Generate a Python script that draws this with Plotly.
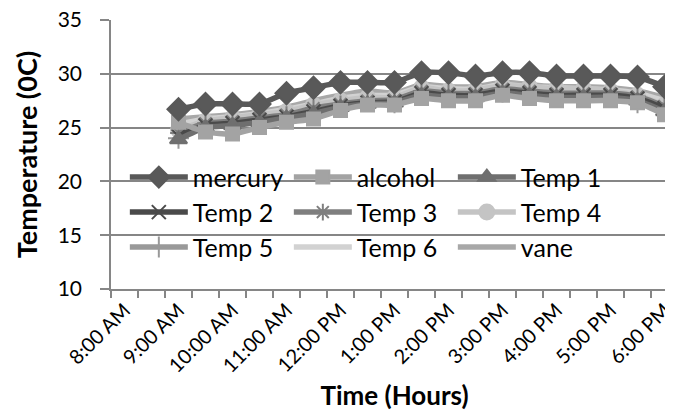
import plotly.graph_objects as go

categories = ["8:00 AM", "8:30 AM", "9:00 AM", "9:30 AM", "10:00 AM", "10:30 AM", "11:00 AM",
              "11:30 AM", "12:00 PM", "12:30 PM", "1:00 PM", "1:30 PM", "2:00 PM", "2:30 PM",
              "3:00 PM", "3:30 PM", "4:00 PM", "4:30 PM", "5:00 PM", "5:30 PM", "6:00 PM"]
first_data_index = 2  # readings start at 9:00 AM

mercury = [26.7, 27.2, 27.2, 27.2, 28.2, 28.7, 29.2, 29.2, 29.2, 30.1, 30.1, 29.8, 30.1, 30.1, 29.8, 29.8, 29.8, 29.7, 28.8]
alcohol = [25.5, 24.6, 24.4, 25.0, 25.5, 25.8, 26.6, 27.1, 27.1, 27.7, 27.5, 27.5, 28.0, 27.7, 27.5, 27.5, 27.5, 27.3, 26.2]
temp1 = [23.9, 25.0, 25.2, 25.5, 25.9, 26.3, 26.9, 27.2, 27.3, 28.0, 27.8, 27.8, 28.2, 28.0, 27.8, 27.8, 27.8, 27.5, 26.5]
temp2 = [24.2, 25.2, 25.4, 25.7, 26.0, 26.5, 27.0, 27.3, 27.4, 28.2, 28.0, 28.0, 28.4, 28.2, 28.0, 28.0, 28.0, 27.7, 26.8]
temp3 = [24.5, 25.4, 25.6, 25.9, 26.2, 26.8, 27.2, 27.5, 27.6, 28.4, 28.2, 28.2, 28.6, 28.4, 28.2, 28.2, 28.2, 27.9, 27.0]
temp4 = [24.8, 25.6, 25.9, 26.2, 26.5, 27.1, 27.5, 27.8, 27.8, 28.7, 28.4, 28.5, 28.9, 28.8, 28.6, 28.6, 28.4, 28.0, 27.1]
temp5 = [24.0, 25.3, 25.6, 25.8, 26.3, 26.8, 27.3, 27.5, 27.3, 28.0, 27.8, 27.8, 28.3, 28.0, 27.8, 27.8, 27.8, 27.3, 26.8]
temp6 = [25.3, 25.8, 26.0, 26.3, 26.7, 27.2, 27.7, 28.0, 28.0, 28.8, 28.6, 28.6, 29.0, 28.8, 28.7, 28.6, 28.5, 28.2, 27.5]
vane = [25.8, 26.0, 26.2, 26.5, 26.9, 27.5, 28.0, 28.4, 28.2, 29.0, 28.8, 28.8, 29.2, 29.0, 28.8, 28.8, 28.7, 28.4, 27.8]

series_names = ["mercury", "alcohol", "Temp 1", "Temp 2", "Temp 3", "Temp 4", "Temp 5", "Temp 6", "vane"]
series_values = [mercury, alcohol, temp1, temp2, temp3, temp4, temp5, temp6, vane]
y_ticks = [10, 15, 20, 25, 30, 35]

styles = [
    dict(color="#595959", symbol="diamond", size=17),
    dict(color="#a3a3a3", symbol="square", size=13),
    dict(color="#6f6f6f", symbol="triangle-up", size=15),
    dict(color="#4a4a4a", symbol="x-thin-open", size=14),
    dict(color="#7f7f7f", symbol="asterisk-open", size=14),
    dict(color="#c4c4c4", symbol="circle", size=15),
    dict(color="#999999", symbol="cross-thin-open", size=15),
    dict(color="#d2d2d2", symbol=None, size=0),
    dict(color="#a8a8a8", symbol=None, size=0),
]

x_idx = list(range(len(categories)))
data_x = x_idx[first_data_index:]

font_family = "Lato, 'Open Sans', sans-serif"
legend_names = ["legend", "legend2", "legend3"]

fig = go.Figure()
traces = []
for i, (name, vals, st) in enumerate(zip(series_names, series_values, styles)):
    if st["symbol"] is None:
        mode = "lines"
        marker = None
    else:
        mode = "lines+markers"
        marker = dict(symbol=st["symbol"], size=st["size"], color=st["color"],
                      line=dict(color=st["color"], width=2))
    traces.append(go.Scatter(x=data_x, y=vals, name=name, mode=mode,
                             line=dict(color=st["color"], width=5.5, shape="spline", smoothing=0.6),
                             marker=marker, legend=legend_names[i // 3], legendrank=i + 1))
for i in [8, 7, 6, 5, 4, 3, 2, 1, 0]:
    fig.add_trace(traces[i])

row_y = [0.415, 0.285, 0.155]
legend_common = dict(orientation="h", x=0.0244, xanchor="left", yanchor="middle",
                     bgcolor="rgba(0,0,0,0)", font=dict(size=25, family=font_family, color="black"),
                     entrywidth=91, entrywidthmode="pixels", traceorder="normal", itemwidth=58)

fig.update_layout(
    width=673, height=417,
    margin=dict(l=103, r=3, t=12, b=136),
    paper_bgcolor="white", plot_bgcolor="white",
    font=dict(family=font_family, color="black", size=20),
    showlegend=True,
    legend=dict(y=row_y[0], **legend_common),
    legend2=dict(y=row_y[1], **legend_common),
    legend3=dict(y=row_y[2], **legend_common),
    xaxis=dict(range=[-0.5, len(categories) - 0.5], tickmode="array",
               tickvals=x_idx[::2], ticktext=categories[::2], tickangle=-45,
               ticks="", showgrid=False, showline=True, linecolor="#868686", linewidth=1.5,
               tickfont=dict(size=20), automargin=False, ticklabeloverflow="allow",
               minor=dict(tickmode="linear", tick0=-0.5, dtick=1, ticks="outside",
                          ticklen=7, tickcolor="#868686", tickwidth=1.5, showgrid=False),
               title=dict(text="<b>Time (Hours)</b>", font=dict(size=26), standoff=11),
               zeroline=False),
    yaxis=dict(range=[10, 35], tickmode="array", tickvals=y_ticks, ticks="outside",
               ticklen=9, tickcolor="#868686", tickwidth=1.5,
               showgrid=True, gridcolor="#868686", gridwidth=1.5,
               showline=True, linecolor="#868686", linewidth=1.5,
               tickfont=dict(size=21), automargin=False, ticklabeloverflow="allow",
               ticklabelstandoff=14,
               title=dict(text="<b>Temperature (0C)</b>", font=dict(size=27), standoff=12),
               zeroline=False),
)

fig.write_html("out.html")
